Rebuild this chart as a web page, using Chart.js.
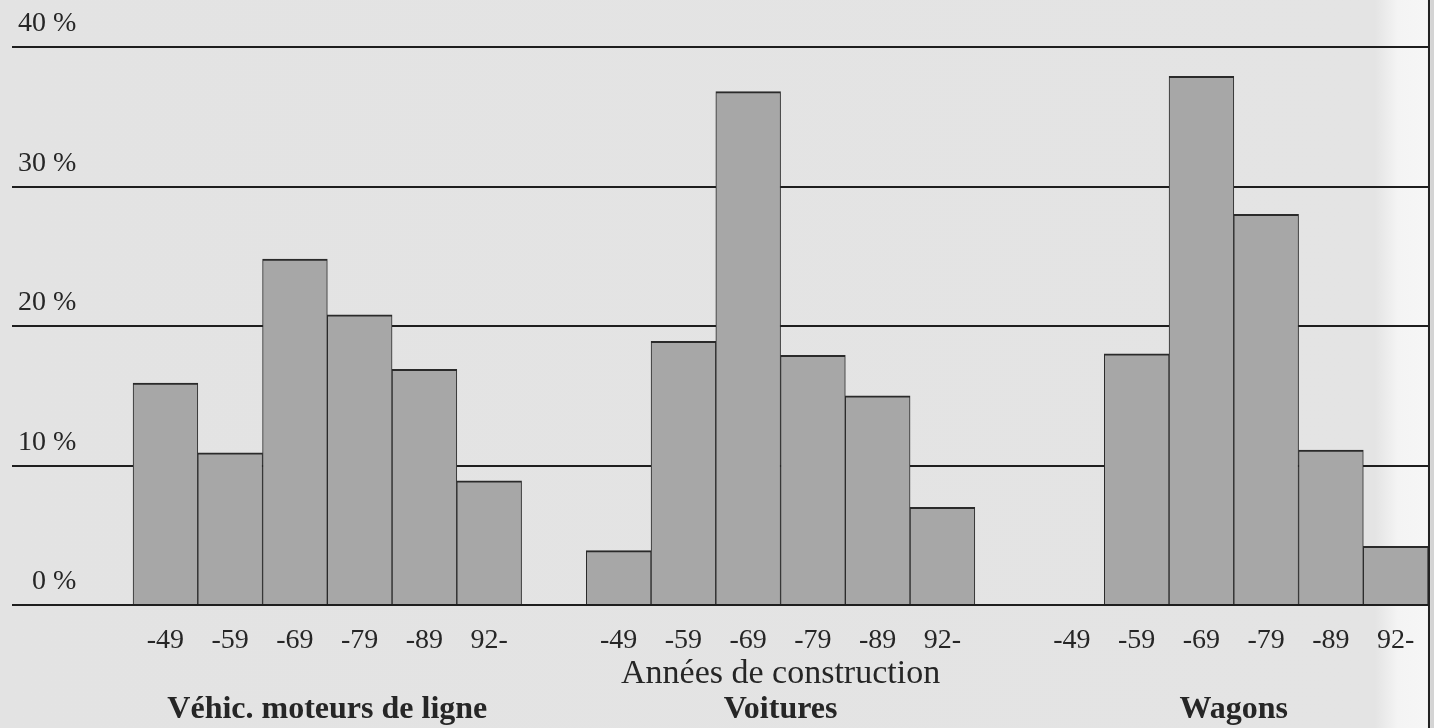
<!DOCTYPE html>
<html>
<head>
<meta charset="utf-8">
<script src="https://cdn.jsdelivr.net/npm/chart.js@4/dist/chart.umd.min.js"></script>
<style>
  html, body { margin: 0; padding: 0; }
  body {
    width: 1434px; height: 728px; overflow: hidden; position: relative;
    background: linear-gradient(to right, #e3e3e3 0, #e4e4e4 1375px, #f4f4f4 1398px, #f6f6f6 1427px, #d4d4d4 1431px);
  }
  #edge { position: absolute; left: 1428px; top: 0; width: 2px; height: 728px; background: #222; }
  canvas { position: absolute; left: 0; top: 0; }
</style>
</head>
<body>
<canvas id="ChartAge" width="1434" height="728"></canvas>
<div id="edge"></div>
<script>
// categories and values (% of fleet per construction period)
var periods = ["-49", "-59", "-69", "-79", "-89", "92-"];
var groups = ["Véhic. moteurs de ligne", "Voitures", "Wagons"];
var vehicules = [15.9, 10.9, 24.8, 20.8, 16.9, 8.9];
var voitures = [3.9, 18.9, 36.8, 17.9, 15.0, 7.0];
var wagons = [0, 18.0, 37.9, 28.0, 11.1, 4.2];
var yTicks = [0, 10, 20, 30, 40];
var axisTitle = "Années de construction";

var serif = "'Liberation Serif', 'Times New Roman', serif";
var ink = "#262626";

// one slot per bar, one empty slot between groups
var slotsPerGroup = periods.length + 1;
var series = [vehicules, voitures, wagons];
var points = [];
var slotLabels = {};
series.forEach(function(vals, g) {
    vals.forEach(function(v, i) {
        var slot = g * slotsPerGroup + i;
        points.push({ x: slot, y: v });
        slotLabels[slot] = periods[i];
    });
});
var slotValues = Object.keys(slotLabels).map(Number);

// texts under the axis
var groupText = {
    id: "groupText",
    afterDraw: function(chart) {
        var ctx = chart.ctx;
        var x = chart.scales.x;
        ctx.save();
        ctx.fillStyle = ink;
        ctx.textAlign = "center";
        ctx.textBaseline = "middle";
        ctx.font = "34px " + serif;
        ctx.fillText(axisTitle, x.getPixelForValue(slotsPerGroup + 2.5), 674);
        ctx.font = "bold 32px " + serif;
        groups.forEach(function(name, g) {
            ctx.fillText(name, x.getPixelForValue(g * slotsPerGroup + 2.5), 710);
        });
        ctx.restore();
    }
};

new Chart(document.getElementById("ChartAge"), {
    type: "bar",
    data: {
        datasets: [{
            data: points,
            backgroundColor: "#a7a7a7",
            borderColor: "#2a2a2a",
            borderWidth: { left: 1, right: 1, top: 2, bottom: 0 },
            borderSkipped: false,
            barPercentage: 1,
            categoryPercentage: 1
        }]
    },
    options: {
        responsive: false,
        animation: false,
        layout: { padding: { left: 12, right: 4, top: 47, bottom: 0 } },
        plugins: {
            legend: { display: false },
            tooltip: { enabled: false }
        },
        scales: {
            x: {
                type: "linear",
                min: -2.37,
                max: 19.53,
                offset: false,
                grid: { display: false },
                border: { display: false },
                afterBuildTicks: function(axis) {
                    axis.ticks = slotValues.map(function(v) { return { value: v }; });
                },
                afterFit: function(axis) { axis.height = 123; },
                ticks: {
                    autoSkip: false,
                    maxRotation: 0,
                    padding: 11,
                    color: ink,
                    font: { family: serif, size: 28 },
                    callback: function(v) { return slotLabels[v]; }
                }
            },
            y: {
                min: 0,
                max: 40,
                afterBuildTicks: function(axis) {
                    axis.ticks = yTicks.map(function(v) { return { value: v }; });
                },
                afterFit: function(axis) { axis.width = 0; },
                grid: { color: "#1e1e1e", lineWidth: 2, drawTicks: false },
                border: { display: false },
                ticks: {
                    mirror: true,
                    crossAlign: "far",
                    labelOffset: -23,
                    padding: 6,
                    color: ink,
                    font: { family: serif, size: 28 },
                    callback: function(v) { return v + " %"; }
                }
            }
        }
    },
    plugins: [groupText]
});
</script>
</body>
</html>
